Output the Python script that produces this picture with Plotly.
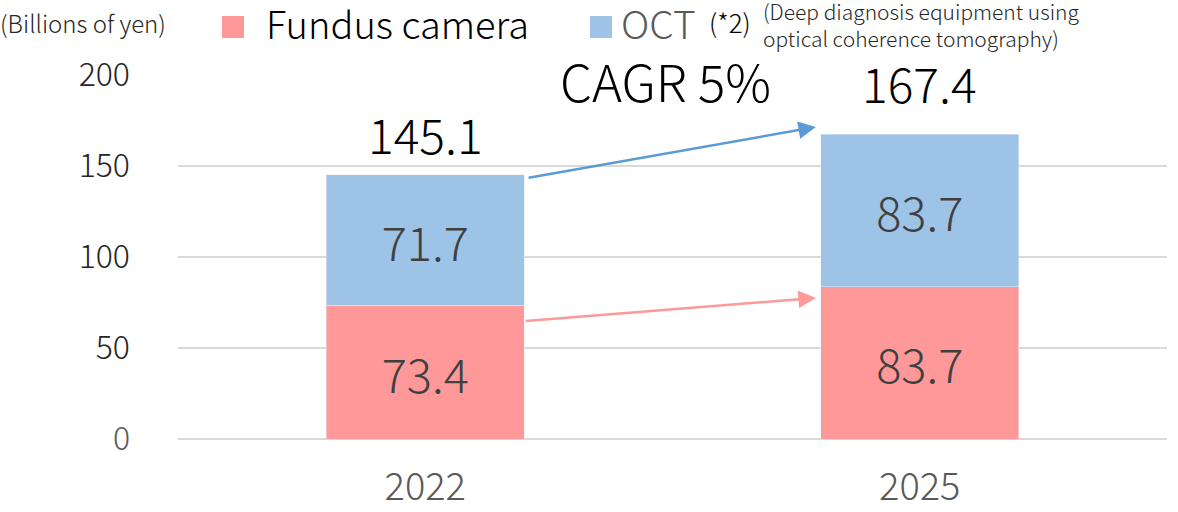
import plotly.graph_objects as go

years = ["2022", "2025"]
fundus = [73.4, 83.7]
oct_vals = [71.7, 83.7]
totals = [145.1, 167.4]
y_ticks = [0, 50, 100, 150, 200]

FONT = "Noto Sans CJK JP"
PINK = "#FF9999"
BLUE = "#9DC3E6"
PINK_ARROW = "#FF9999"
BLUE_ARROW = "#5B9BD5"
W = 300

fig = go.Figure()
fig.add_trace(go.Bar(x=years, y=fundus, name="Fundus camera", marker_color=PINK,
                     text=[f"{v:.1f}" for v in fundus], textposition="inside",
                     insidetextanchor="middle",
                     textfont=dict(family=FONT, size=47, color="#404040", weight=W), width=0.4))
fig.add_trace(go.Bar(x=years, y=oct_vals, name="OCT", marker_color=BLUE,
                     text=[f"{v:.1f}" for v in oct_vals], textposition="inside",
                     insidetextanchor="middle",
                     textfont=dict(family=FONT, size=47, color="#404040", weight=W), width=0.4))

ann = []
total_shifts = [42, 52]
for i, t in enumerate(totals):
    ann.append(dict(x=i, y=t, xref="x", yref="y", text=f"{t:.1f}", showarrow=False,
                    yanchor="middle", yshift=total_shifts[i],
                    font=dict(family=FONT, size=48, color="#000000", weight=W)))
ann.append(dict(x=0.485, y=197, xref="x", yref="y", text="CAGR 5%", showarrow=False,
                font=dict(family=FONT, size=51, color="#000000", weight=W)))
# growth arrows
ann.append(dict(x=0.79, y=171.4, ax=0.206, ay=143.4, xref="x", yref="y", axref="x", ayref="y",
                text="", showarrow=True, arrowhead=2, arrowsize=1.4, arrowwidth=2.5,
                arrowcolor=BLUE_ARROW))
ann.append(dict(x=0.79, y=77.5, ax=0.2, ay=64.8, xref="x", yref="y", axref="x", ayref="y",
                text="", showarrow=True, arrowhead=2, arrowsize=1.4, arrowwidth=2.5,
                arrowcolor=PINK_ARROW))

# legend / header (paper coords relative to plot area 178..1167 x, 75..439 y)
def px(xp):
    return (xp - 178) / 989.0
def py(yp):
    return (439 - yp) / 364.0

ann.append(dict(x=px(-2), y=py(22), xref="paper", yref="paper", xanchor="left", yanchor="middle",
                text="(Billions of yen)", showarrow=False,
                font=dict(family=FONT, size=24, color="#262626", weight=W)))
ann.append(dict(x=px(264), y=py(22), xref="paper", yref="paper", xanchor="left", yanchor="middle",
                text="Fundus camera", showarrow=False,
                font=dict(family=FONT, size=38, color="#000000", weight=W)))
ann.append(dict(x=px(619), y=py(22), xref="paper", yref="paper", xanchor="left", yanchor="middle",
                text="OCT", showarrow=False,
                font=dict(family=FONT, size=39, color="#595959", weight=W)))
ann.append(dict(x=px(707), y=py(21), xref="paper", yref="paper", xanchor="left", yanchor="middle",
                text="(*2)", showarrow=False,
                font=dict(family=FONT, size=26, color="#000000", weight=W)))
ann.append(dict(x=px(761), y=py(24), xref="paper", yref="paper", xanchor="left", yanchor="middle",
                text="(Deep diagnosis equipment using<br>optical coherence tomography)",
                showarrow=False, align="left",
                font=dict(family=FONT, size=21, color="#262626", weight=W)))

shapes = [
    dict(type="rect", xref="paper", yref="paper", x0=px(222), x1=px(244), y0=py(38), y1=py(16),
         fillcolor=PINK, line=dict(width=0)),
    dict(type="rect", xref="paper", yref="paper", x0=px(590), x1=px(612), y0=py(38), y1=py(16),
         fillcolor=BLUE, line=dict(width=0)),
]

tick_text = [f"<span style='color:#595959'>{v}</span>" if v == 0 else str(v) for v in y_ticks]

fig.update_layout(
    barmode="stack",
    width=1178, height=512,
    margin=dict(l=178, r=11, t=75, b=73, autoexpand=False),
    plot_bgcolor="white", paper_bgcolor="white",
    showlegend=False,
    annotations=ann, shapes=shapes,
    font=dict(family=FONT),
    xaxis=dict(tickfont=dict(family=FONT, size=38, color="#595959", weight=W), showline=False,
               ticks="", showgrid=False, automargin=False, ticklabelstandoff=22),
    yaxis=dict(range=[0, 200], tickvals=y_ticks, ticktext=tick_text,
               tickfont=dict(family=FONT, size=32, color="#262626", weight=W),
               showgrid=True, gridcolor="#D9D9D9", gridwidth=1.5, zeroline=True,
               zerolinecolor="#D9D9D9", zerolinewidth=1.5, ticks="", ticklabelstandoff=47,
               automargin=False),
)

fig.write_html("out.html", config={"displayModeBar": False},
               post_script="document.body.style.margin='0';")
